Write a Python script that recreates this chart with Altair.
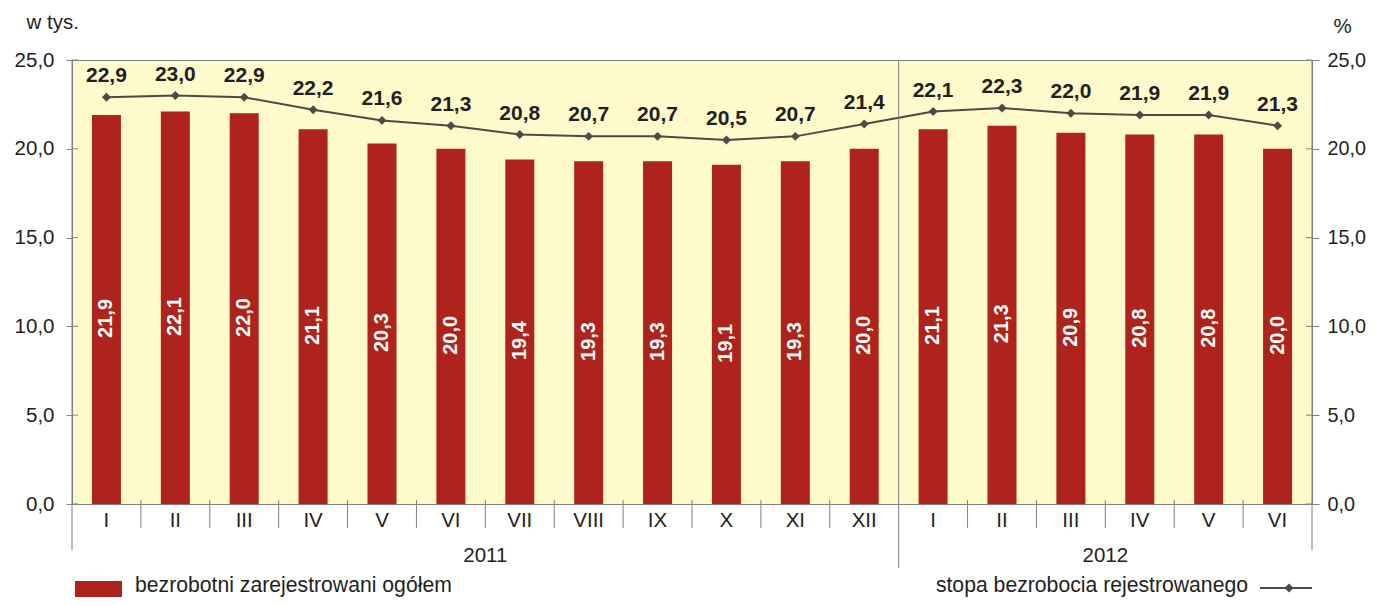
import altair as alt
import pandas as pd

months = ["I", "II", "III", "IV", "V", "VI", "VII", "VIII", "IX", "X", "XI", "XII",
          "I", "II", "III", "IV", "V", "VI"]
years = ["2011"] * 12 + ["2012"] * 6
registered = [21.9, 22.1, 22.0, 21.1, 20.3, 20.0, 19.4, 19.3, 19.3, 19.1, 19.3, 20.0,
              21.1, 21.3, 20.9, 20.8, 20.8, 20.0]
rate = [22.9, 23.0, 22.9, 22.2, 21.6, 21.3, 20.8, 20.7, 20.7, 20.5, 20.7, 21.4,
        22.1, 22.3, 22.0, 21.9, 21.9, 21.3]
y_ticks = [0, 5, 10, 15, 20, 25]
year_labels = ["2011", "2012"]
year_centers = [6, 15]
month_bounds = [1, 2, 3, 4, 5, 6, 7, 8, 9, 10, 11, 13, 14, 15, 16, 17]
year_bound = [12]
legend_labels = ["bezrobotni zarejestrowani ogółem", "stopa bezrobocia rejestrowanego"]


def pl(v):
    return f"{v:.1f}".replace(".", ",")


df = pd.DataFrame({
    "pos": [i + 0.5 for i in range(len(months))],
    "month": months,
    "year": years,
    "registered": registered,
    "rate": rate,
    "reg_label": [pl(v) for v in registered],
    "rate_label": [pl(v) for v in rate],
})
df_ticks = pd.DataFrame({"t": y_ticks})
df_years = pd.DataFrame({"year": year_labels, "c": year_centers})
df_mb = pd.DataFrame({"b": month_bounds})
df_yb = pd.DataFrame({"b": year_bound})
df_edges = pd.DataFrame({"b": [0, 18]})
df_leg = pd.DataFrame({"l1": [legend_labels[0]], "l2": [legend_labels[1]]})

FONT = "Liberation Sans"
TXT = "#231F20"
BAR = "#AE231B"
LINE = "#4B4A45"
GRAY = "#808080"
FS = 20.5
FS_R = 19.8
FS_LEG = 21.2

xs = alt.Scale(domain=[0, 18], nice=False, zero=False, padding=0)
ys = alt.Scale(domain=[0, 25], nice=False, zero=True, padding=0)
X = alt.X("pos:Q", scale=xs, axis=None)
label_expr = "replace(format(datum.value, '.1f'), '.', ',')"

bars = alt.Chart(df).mark_bar(size=29, color=BAR).encode(
    x=X,
    y=alt.Y("registered:Q", scale=ys, axis=alt.Axis(
        orient="left", values=y_ticks, labelExpr=label_expr, tickSize=6,
        labelPadding=12, domainColor=GRAY, tickColor=GRAY, labelFontSize=FS,
        labelColor=TXT, labelFont=FONT, grid=False, title="w tys.", titleAngle=0,
        titleX=-46, titleY=-38, titleAlign="left", titleBaseline="middle",
        titleFontWeight="normal", titleFontSize=FS, titleFont=FONT, titleColor=TXT)),
)

bar_labels = alt.Chart(df).transform_calculate(
    mid="datum.registered / 2 - 0.5"
).mark_text(angle=270, color="white", fontWeight="bold", fontSize=20,
            baseline="middle", align="center", font=FONT).encode(
    x=X,
    y=alt.Y("mid:Q", scale=ys, axis=None),
    text="reg_label:N",
)

line = alt.Chart(df).mark_line(color=LINE, strokeWidth=2).encode(
    x=X,
    y=alt.Y("rate:Q", scale=ys, axis=alt.Axis(
        orient="right", values=y_ticks, labelExpr=label_expr, tickSize=7,
        labelPadding=8, domainColor=GRAY, tickColor=GRAY, labelFontSize=FS_R,
        labelColor=TXT, labelFont=FONT, grid=False, title="%", titleAngle=0,
        titleX=21, titleY=-34, titleAlign="left", titleBaseline="middle",
        titleFontWeight="normal", titleFontSize=FS, titleFont=FONT, titleColor=TXT)),
)

points = alt.Chart(df).mark_point(shape="diamond", filled=True, size=80,
                                  color=LINE, opacity=1).encode(
    x=X, y=alt.Y("rate:Q", scale=ys, axis=None))

rate_labels = alt.Chart(df).mark_text(dy=-21, fontWeight="bold", fontSize=21,
                                      color=TXT, font=FONT, baseline="middle").encode(
    x=X, y=alt.Y("rate:Q", scale=ys, axis=None), text="rate_label:N")

month_text = alt.Chart(df).mark_text(fontSize=FS, color=TXT, font=FONT,
                                     baseline="middle").encode(
    x=X, y=alt.value(461), text="month:N")

year_text = alt.Chart(df_years).mark_text(fontSize=FS, color=TXT, font=FONT,
                                          baseline="middle").encode(
    x=alt.X("c:Q", scale=xs, axis=None), y=alt.value(496), text="year:N")

month_sep = alt.Chart(df_mb).mark_rule(color=GRAY, strokeWidth=1).encode(
    x=alt.X("b:Q", scale=xs, axis=None), y=alt.value(440), y2=alt.value(468))

year_sep = alt.Chart(df_yb).mark_rule(color=GRAY, strokeWidth=1).encode(
    x=alt.X("b:Q", scale=xs, axis=None), y=alt.value(0), y2=alt.value(508))

edges = alt.Chart(df_edges).mark_rule(color=GRAY, strokeWidth=1).encode(
    x=alt.X("b:Q", scale=xs, axis=None), y=alt.value(0), y2=alt.value(490))

ticks_in_l = alt.Chart(df_ticks).mark_rule(color=GRAY, strokeWidth=1).encode(
    x=alt.value(0), x2=alt.value(6), y=alt.Y("t:Q", scale=ys, axis=None))
ticks_in_r = alt.Chart(df_ticks).mark_rule(color=GRAY, strokeWidth=1).encode(
    x=alt.value(1234), x2=alt.value(1240), y=alt.Y("t:Q", scale=ys, axis=None))

leg_rect = alt.Chart(df_leg).mark_rect(color=BAR).encode(
    x=alt.value(3), x2=alt.value(50), y=alt.value(521), y2=alt.value(537))
leg_t1 = alt.Chart(df_leg).mark_text(fontSize=FS_LEG, color=TXT, font=FONT, align="left",
                                     baseline="middle").encode(
    x=alt.value(63), y=alt.value(526), text="l1:N")
leg_t2 = alt.Chart(df_leg).mark_text(fontSize=FS_LEG, color=TXT, font=FONT, align="right",
                                     baseline="middle").encode(
    x=alt.value(1176), y=alt.value(526), text="l2:N")
leg_line = alt.Chart(df_leg).mark_rule(color=LINE, strokeWidth=2).encode(
    x=alt.value(1188), x2=alt.value(1240), y=alt.value(528))
leg_pt = alt.Chart(df_leg).mark_point(shape="diamond", filled=True, size=80,
                                      color=LINE, opacity=1).encode(
    x=alt.value(1217), y=alt.value(528))

chart = alt.layer(
    bars, bar_labels, line, points, rate_labels, month_text, year_text,
    month_sep, year_sep, edges, ticks_in_l, ticks_in_r,
    leg_rect, leg_t1, leg_t2, leg_line, leg_pt,
).resolve_scale(y="independent").properties(
    width=1240, height=444,
    autosize=alt.AutoSizeParams(type="none"),
    padding={"left": 64, "top": 52, "right": 56, "bottom": 94},
).configure(font=FONT, background="white").configure_view(
    fill="#FFFACC", stroke=GRAY, strokeWidth=1)

chart.save("out.html", embed_options={"renderer": "svg", "actions": False})
